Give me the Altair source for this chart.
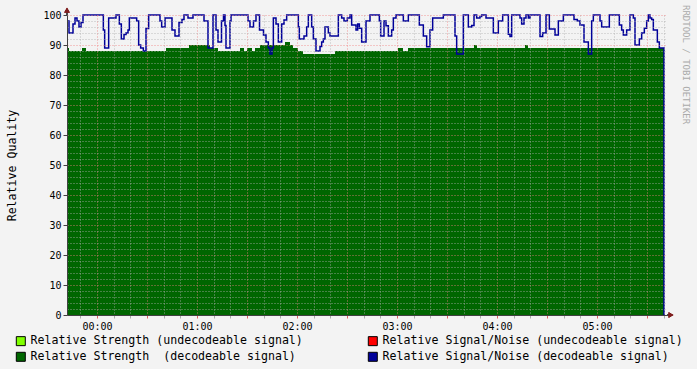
import altair as alt
import pandas as pd

# ---- data (minutes relative to 00:00) ----
sn_min = [-18.0, -16.8, -14.4, -13.2, -12.0, -10.8, -9.6, -8.4, 3.8, 4.6,
          7.0, 11.4, 13.4, 14.6, 16.2, 17.4, 18.6, 19.4, 23.8, 25.0,
          26.2, 27.8, 29.4, 31.0, 37.8, 38.8, 40.8, 45.0, 46.8, 49.2,
          51.0, 52.2, 54.6, 57.6, 64.2, 66.6, 69.6, 71.4, 72.6, 74.7,
          75.9, 76.8, 77.4, 79.8, 80.4, 90.6, 91.8, 93.9, 95.4, 97.5,
          99.9, 101.4, 102.8, 103.8, 105.0, 105.8, 107.4, 108.8, 110.8, 112.2,
          113.8, 120.8, 121.4, 124.2, 125.8, 126.8, 128.8, 129.8, 131.4, 133.8,
          134.8, 135.8, 136.8, 138.8, 139.8, 144.8, 146.8, 148.2, 150.2, 151.8,
          152.8, 155.4, 156.4, 157.4, 158.8, 161.4, 163.8, 169.4, 170.2, 172.2,
          173.4, 174.8, 176.8, 177.8, 179.4, 183.8, 186.8, 193.4, 195.8, 197.8,
          199.8, 201.4, 207.8, 214.8, 215.8, 219.8, 222.8, 224.8, 226.2, 227.8,
          229.8, 230.8, 233.4, 237.8, 240.8, 243.4, 246.8, 247.8, 248.8, 253.8,
          254.8, 256.2, 257.4, 258.8, 259.8, 265.8, 267.4, 269.4, 271.4, 274.8,
          276.8, 279.8, 286.2, 288.2, 289.8, 292.2, 294.8, 296.8, 297.8, 301.8,
          302.8, 307.4, 313.4, 314.8, 315.8, 317.8, 319.8, 321.8, 322.8, 325.4,
          326.8, 328.4, 329.8, 330.8, 331.8, 332.8, 333.8, 336.2, 337.4, 340.2]
sn_val = [98, 94, 97, 99, 98, 96, 97.5, 100, 95, 89,
          99, 100, 97, 92, 93.5, 94, 95, 99, 98, 90,
          89, 88, 95.5, 100, 98, 96, 99, 95, 93, 97.5,
          98.5, 100, 99, 100, 98, 89, 100, 95, 91, 98,
          100, 96.5, 89, 98, 100, 98, 96, 98, 100, 95,
          93.3, 91, 89, 87, 89, 99, 97, 91, 97, 98.3,
          100, 96, 92, 93, 96, 100, 96, 92, 88, 89.5,
          91, 92, 96, 94, 93, 100, 99, 98, 99, 100,
          96.7, 95, 97, 95.6, 91, 98, 100, 98, 93, 98,
          96.4, 93, 95, 99, 100, 98, 100, 96.7, 93, 89.4,
          95, 99, 100, 93, 87, 100, 96, 96.5, 100, 99,
          99.5, 100, 99, 94, 98, 100, 93.6, 92.8, 100, 99,
          97, 99, 100, 99, 100, 92.8, 94, 100, 95.3, 93.3,
          98, 100, 98.5, 98, 96.7, 91, 87, 98, 100, 98,
          96, 100, 96.7, 95, 93.3, 95, 100, 99, 90, 92,
          94, 95.6, 98, 100, 99, 98.5, 95, 91, 89, 0]

st_min = [-18.0, -16.8, -9.0, -6.6, 41.4, 55.2, 67.8, 72.6, 85.8, 88.2,
          90.0, 93.0, 94.8, 97.8, 112.8, 115.8, 117.6, 120.6, 123.6, 142.8,
          180.6, 183.6, 186.6, 226.2, 228.0, 256.8, 258.6, 340.2]
st_val = [89, 88, 89, 88, 89, 90, 89, 88, 89, 88,
          89, 88, 89, 90, 91, 90, 89, 88, 87, 88,
          89, 88, 89, 90, 89, 90, 89, 89]

# legend entries (laid out column by column: strength column, then S/N column)
legend_names = ["Relative Strength (undecodeable signal)",
                "Relative Strength\u00a0 (decodeable signal)",
                "Relative Signal/Noise (undecodeable signal)",
                "Relative Signal/Noise (decodeable signal)"]
legend_colors = ["#80FF00", "#006600", "#FF0000", "#000099"]

watermark = ["RRDTOOL / TOBI OETIKER"]

x_domain = [-18, 342]
x_tick_values = list(range(-10, 341, 10))
y_tick_values = list(range(0, 101, 2))

MONO = "DejaVu Sans Mono"
GREEN = "#006600"
BLUE = "#000099"
AXIS = "#404040"
ARROW = "#7F1F1F"

sn_df = pd.DataFrame({"t": sn_min, "v": sn_val})
st_df = pd.DataFrame({"t": st_min, "v": st_val})
leg_df = pd.DataFrame({"series": legend_names})
wm_df = pd.DataFrame({"label": watermark})

x_scale = alt.Scale(domain=x_domain, nice=False, zero=False)
y_scale = alt.Scale(domain=[0, 100], nice=False)

x_axis = alt.Axis(
    values=x_tick_values,
    labelExpr="datum.value % 60 === 0 ? '0' + (datum.value / 60) + ':00' : ''",
    labelFont=MONO, labelFontSize=10, labelColor="#000000", labelPadding=3,
    labelOverlap=False, labelFlush=False,
    grid=True,
    gridColor={"condition": {"test": "datum.value % 30 === 0", "value": "#F08080"}, "value": "#B0B0B0"},
    gridDash=[1, 2], gridOpacity=0.8, gridWidth=1,
    ticks=True, tickSize=3,
    tickColor={"condition": {"test": "datum.value % 30 === 0", "value": "#E06060"}, "value": "#AAAAAA"},
    domainColor=AXIS, domainWidth=1, zindex=1,
)
y_axis = alt.Axis(
    values=y_tick_values,
    labelExpr="datum.value % 10 === 0 ? datum.label : ''",
    labelFont=MONO, labelFontSize=10, labelColor="#000000", labelPadding=2,
    labelOverlap=False, labelFlush=False,
    grid=True,
    gridColor={"condition": {"test": "datum.value % 10 === 0", "value": "#F08080"}, "value": "#B0B0B0"},
    gridDash=[1, 2], gridOpacity=0.8, gridWidth=1,
    ticks=True, tickSize=4, tickColor=AXIS,
    tickOpacity={"condition": {"test": "datum.value % 10 === 0", "value": 1}, "value": 0},
    domainColor=AXIS, domainWidth=1, zindex=1,
    titleFont=MONO, titleFontSize=11.6, titleFontWeight="normal", titleColor="#000000",
    titlePadding=25,
)

X = alt.X("t:Q", scale=x_scale, axis=x_axis, title=None)
Y = alt.Y("v:Q", scale=y_scale, axis=y_axis, title="Relative Quality")

area = alt.Chart(st_df).mark_area(interpolate="step-after", color=GREEN, opacity=1).encode(x=X, y=Y)
line = alt.Chart(sn_df).mark_line(interpolate="step-after", color=BLUE, strokeWidth=1.5).encode(x=X, y=Y)

XD = lambda d: alt.XDatum(d, scale=x_scale, axis=x_axis, title=None)
YD = lambda d: alt.YDatum(d, scale=y_scale, axis=y_axis, title="Relative Quality")

y_ext = alt.Chart(leg_df).mark_rule(color=AXIS, strokeWidth=1).encode(
    x=XD(-18), y=YD(100), y2=alt.Y2Datum(102))
x_ext = alt.Chart(leg_df).mark_rule(color=AXIS, strokeWidth=1).encode(
    x=XD(342), x2=alt.X2Datum(344), y=YD(0))
arrow_up = alt.Chart(leg_df).mark_point(shape="triangle-up", filled=True, size=30, color=ARROW, opacity=1).encode(
    x=XD(-18), y=YD(101.6))
arrow_right = alt.Chart(leg_df).mark_point(shape="triangle-right", filled=True, size=30, color=ARROW, opacity=1).encode(
    x=XD(344.4), y=YD(0))

# vertical watermark at the right edge
wm = alt.Chart(wm_df).mark_text(angle=90, align="left", baseline="middle", font=MONO,
                                fontSize=9, color="#AAAAAA").encode(
    text="label:N", x=alt.value(619), y=alt.value(-10))

legend_layer = alt.Chart(leg_df).mark_square(size=81, filled=True, stroke="black", strokeWidth=1, opacity=1).encode(
    fill=alt.Fill("series:N", sort=legend_names,
                  scale=alt.Scale(domain=legend_names, range=legend_colors),
                  legend=alt.Legend(orient="none", legendX=-52, legendY=320, columns=2,
                                    title=None, symbolType="square", symbolSize=81,
                                    symbolStrokeColor="black", symbolStrokeWidth=1,
                                    symbolOpacity=1,
                                    labelFont=MONO, labelFontSize=11.6, labelColor="#000000",
                                    labelLimit=600, labelOffset=4, columnPadding=63,
                                    rowPadding=2, padding=0))
).transform_filter("false")

chart = alt.layer(area, line, y_ext, x_ext, arrow_up, arrow_right, wm, legend_layer).properties(
    width=600, height=300,
    autosize=alt.AutoSizeParams(type="none"),
    padding={"left": 67, "top": 15, "right": 30, "bottom": 54},
    background="#F3F3F3",
).configure_view(fill="#FFFFFF", strokeWidth=0)

chart.save("out.html", embed_options={"renderer": "svg", "actions": False})
